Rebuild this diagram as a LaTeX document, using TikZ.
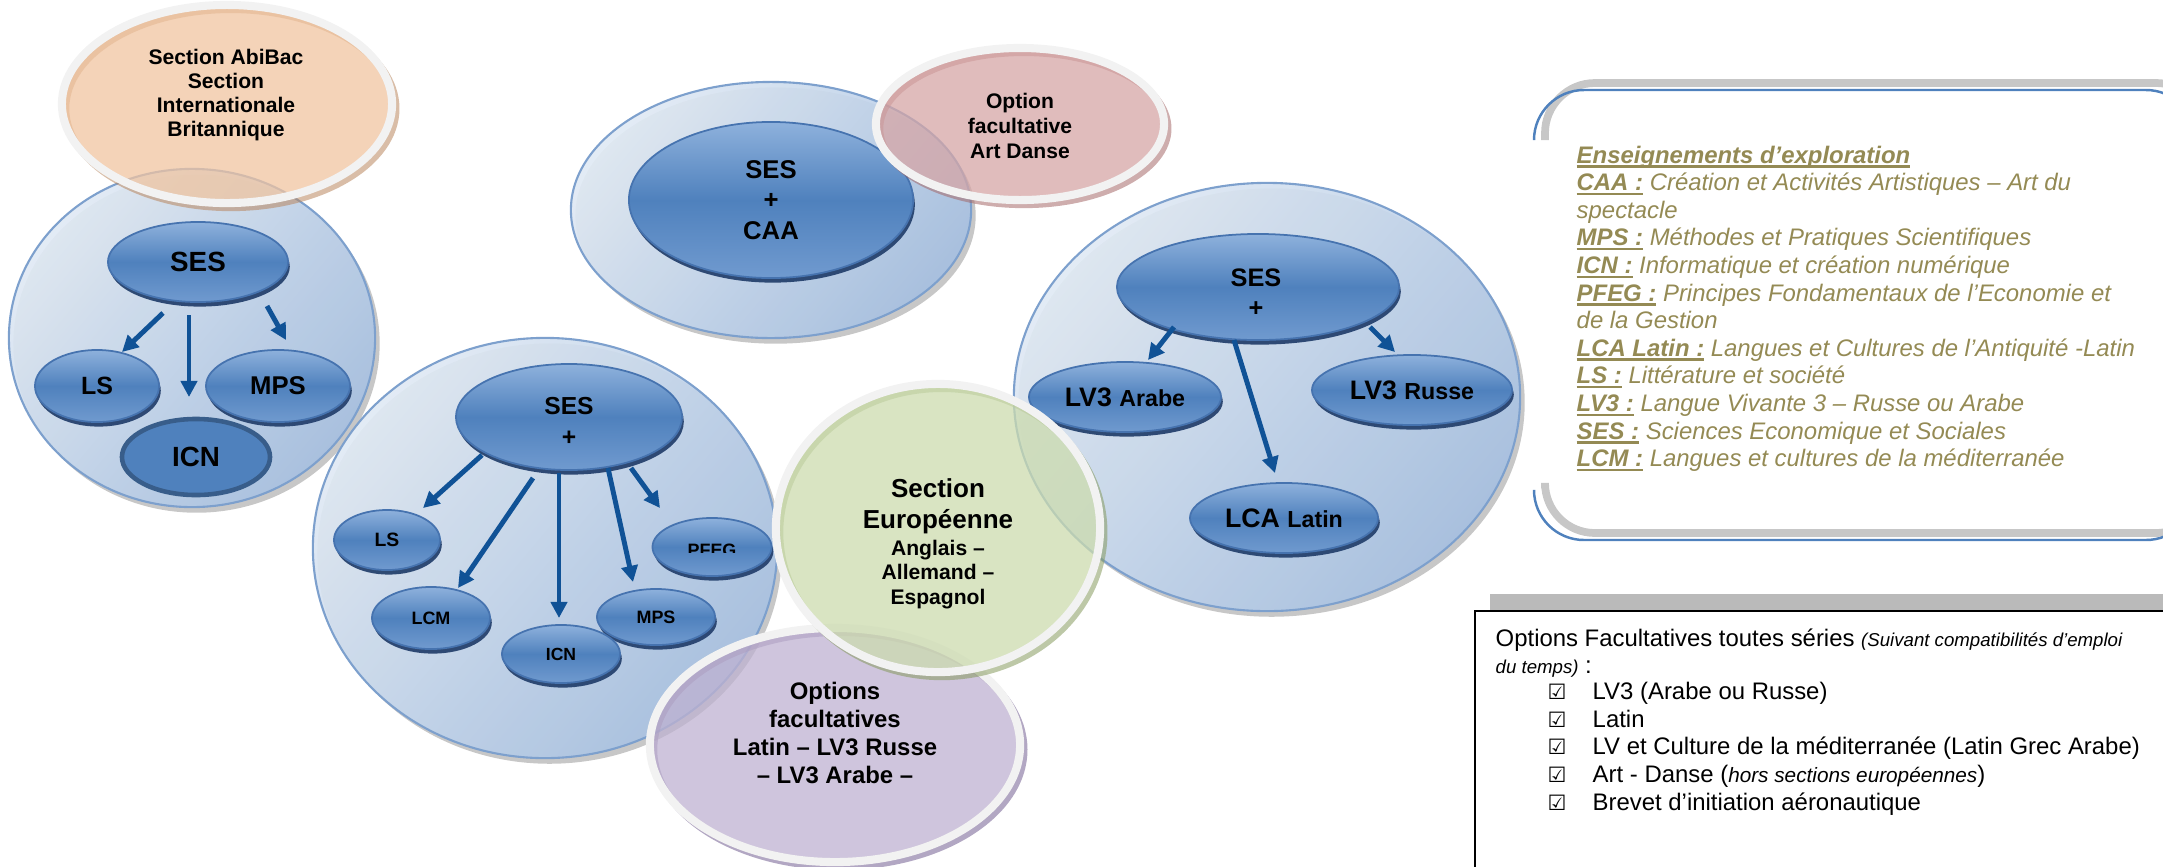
\documentclass[tikz,border=0pt]{standalone}
\usepackage{fontspec}
\setmainfont{Liberation Sans}
\newfontfamily\djv{DejaVu Sans}
\usetikzlibrary{shapes.geometric,arrows.meta,shadows}
\definecolor{bigL}{RGB}{224,233,244}
\definecolor{bigD}{RGB}{166,192,224}
\definecolor{bigE}{RGB}{125,160,205}
\definecolor{innT}{RGB}{142,177,220}
\definecolor{innM}{RGB}{79,129,189}
\definecolor{innB}{RGB}{112,154,207}
\definecolor{innE}{RGB}{70,115,175}
\definecolor{innS}{RGB}{38,66,110}
\definecolor{icnE}{RGB}{56,93,138}
\definecolor{arrc}{RGB}{16,82,150}
\definecolor{ring}{RGB}{242,242,242}
\definecolor{orF}{RGB}{240,196,160}
\definecolor{orS}{RGB}{185,135,95}
\definecolor{pkF}{RGB}{214,166,166}
\definecolor{pkS}{RGB}{165,105,105}
\definecolor{grF}{RGB}{204,219,174}
\definecolor{grS}{RGB}{135,155,95}
\definecolor{puF}{RGB}{191,178,209}
\definecolor{puS}{RGB}{115,95,145}
\definecolor{olive}{RGB}{148,138,84}
\definecolor{frameB}{RGB}{79,129,189}
\newcommand\fsz[2]{\fontsize{#1}{#2}\selectfont}
\newcommand\myul[1]{\setbox0=\hbox{#1}\dimen0=\wd0\leavevmode\rlap{\box0}\rule[-1.3pt]{\dimen0}{0.7pt}}
\begin{document}
\begin{tikzpicture}[x=0.01cm, y=-0.01cm,
  bigc/.style={ellipse, inner sep=0pt, draw=bigE, line width=0.6pt,
    top color=bigL, bottom color=bigD, shading angle=50, fill opacity=0.92,
    drop shadow={shadow xshift=1.3pt, shadow yshift=-1.6pt, opacity=0.22, fill=black}},
  inn/.style={ellipse, inner sep=0pt, draw=innE, line width=0.5pt,
    top color=innT, bottom color=innB, middle color=innM,
    drop shadow={shadow xshift=0.5pt, shadow yshift=-1.3pt, fill=innS, opacity=0.95},
    font=\bfseries, text=black},
  icnflat/.style={ellipse, inner sep=0pt, fill=innM, draw=icnE, line width=1.3pt, font=\bfseries},
  pastel/.style 2 args={ellipse, inner sep=0pt, draw=ring, line width=2.3pt,
    fill=#1, fill opacity=0.75,
    general shadow={shadow xshift=1.1pt, shadow yshift=-1.3pt, fill=none, draw=#2, line width=2pt, opacity=0.55}},
  ptext/.style={align=center, inner sep=0pt, font=\bfseries},
  btext/.style={anchor=base, inner sep=0pt},
  arrw/.style={draw=arrc, line width=1.4pt, -{Triangle[width=4.6pt,length=4.6pt]}},
  lbl/.style={anchor=base west, inner sep=0pt, font=\fsz{6.8}{8}}
]
\useasboundingbox (0,0) rectangle (2163,866);
\clip (0,0) rectangle (2163,866);

% big circles
\node[bigc, minimum width=3.66cm, minimum height=3.38cm] (c1) at (192,338) {};
\node[bigc, minimum width=4.00cm, minimum height=2.56cm] (c2) at (771,210) {};
\node[bigc, minimum width=4.64cm, minimum height=4.20cm] (cm) at (545,548) {};
\node[bigc, minimum width=5.06cm, minimum height=4.28cm] (c3) at (1267,397) {};

% circle 1
\node[inn, minimum width=1.80cm, minimum height=0.80cm, font=\bfseries\fsz{7.9}{9}] (ses1) at (198,262) {SES};
\node[inn, minimum width=1.24cm, minimum height=0.72cm, font=\bfseries\fsz{7.1}{8}] (ls1) at (97,386) {LS};
\node[inn, minimum width=1.44cm, minimum height=0.72cm, font=\bfseries\fsz{7.3}{8}] (mps1) at (278,386) {MPS};
\node[icnflat, minimum width=1.48cm, minimum height=0.76cm, font=\bfseries\fsz{7.9}{9}] (icn1) at (196,457) {ICN};
\draw[arrw] ([shift={(-35,51)}]ses1.center) -- ([shift={(25,-34)}]ls1.center);
\draw[arrw] ([shift={(-9,53)}]ses1.center) -- ([shift={(-7,-60)}]icn1.center);
\draw[arrw] ([shift={(69,44)}]ses1.center) -- ([shift={(8,-46)}]mps1.center);

% circle 2
\node[inn, minimum width=2.84cm, minimum height=1.56cm, align=center, font=\bfseries\fsz{7.3}{8.6}] (caa) at (771,200) {SES\\+\\CAA};

% middle circle
\node[inn, minimum width=2.26cm, minimum height=1.06cm] (sesm) at (569,417) {};
\node[btext, font=\bfseries\fsz{7}{8}] (sesm-t1) at (569,414) {SES};
\node[btext, font=\bfseries\fsz{7}{8}] (sesm-t2) at (569,445) {+};
\node[inn, minimum width=1.06cm, minimum height=0.60cm, font=\bfseries\fsz{5.5}{6}] (lsm) at (387,540) {LS};
\node[inn, minimum width=1.18cm, minimum height=0.62cm, font=\bfseries\fsz{5.1}{6}] (lcmm) at (431,618) {LCM};
\node[inn, minimum width=1.18cm, minimum height=0.56cm, font=\bfseries\fsz{5.1}{6}] (mpsm) at (656,617) {MPS};
\node[inn, minimum width=1.18cm, minimum height=0.58cm, font=\bfseries\fsz{5}{6}] (icnm) at (561,654) {ICN};
\node[inn, minimum width=1.19cm, minimum height=0.58cm] (pfeg) at (712,547) {};
\begin{scope}
\clip (640,500) rectangle (790,552);
\node[btext, font=\bfseries\fsz{5.1}{6}] (pfegt) at (712,556) {PFEG};
\end{scope}
\draw[arrw] ([shift={(-87,38)}]sesm.center) -- ([shift={(36,-32)}]lsm.center);
\draw[arrw] ([shift={(-36,61)}]sesm.center) -- ([shift={(27,-30)}]lcmm.center);
\draw[arrw] ([shift={(-10,56)}]sesm.center) -- ([shift={(-2,-36)}]icnm.center);
\draw[arrw] ([shift={(39,51)}]sesm.center) -- ([shift={(-23,-35)}]mpsm.center);
\draw[arrw] ([shift={(62,51)}]sesm.center) -- ([shift={(-52,-39)}]pfeg.center);

% circle 3
\node[inn, minimum width=2.82cm, minimum height=1.06cm] (ses3) at (1258,287) {};
\node[btext, font=\bfseries\fsz{7.2}{8}] (ses3-t1) at (1256,286) {SES};
\node[btext, font=\bfseries\fsz{7.2}{8}] (ses3-t2) at (1256,316) {+};
\node[inn, minimum width=1.92cm, minimum height=0.70cm, font=\bfseries\fsz{7.6}{8}] (ar3) at (1125,397) {LV3 {\fsz{6.6}{8}Arabe}};
\node[inn, minimum width=2.00cm, minimum height=0.70cm, font=\bfseries\fsz{7.6}{8}] (ru3) at (1412,390) {LV3 {\fsz{6.6}{8}Russe}};
\node[inn, minimum width=1.88cm, minimum height=0.70cm, font=\bfseries\fsz{7.6}{8}] (lca3) at (1284,518) {LCA {\fsz{6.6}{8}Latin}};
\draw[arrw] ([shift={(-84,40)}]ses3.center) -- ([shift={(23,-37)}]ar3.center);
\draw[arrw] ([shift={(-24,53)}]ses3.center) -- ([shift={(-9,-45)}]lca3.center);
\draw[arrw] ([shift={(112,40)}]ses3.center) -- ([shift={(-17,-38)}]ru3.center);

% pastel ellipses
\node[pastel={orF}{orS}, minimum width=3.30cm, minimum height=1.98cm] (orange) at (227,104) {};
\node[ptext, font=\bfseries\fsz{6}{6.8}] (orange-t) at (226,95) {Section AbiBac\\Section\\Internationale\\Britannique};
\node[pastel={pkF}{pkS}, minimum width=2.88cm, minimum height=1.52cm] (pink) at (1020,124) {};
\node[ptext, font=\bfseries\fsz{6}{7.1}] (pink-t) at (1020,126) {Option\\facultative\\Art Danse};
\node[pastel={puF}{puS}, minimum width=3.70cm, minimum height=2.34cm] (purple) at (835,745) {};
\node[ptext, font=\bfseries\fsz{6.8}{7.9}] (purple-t) at (835,733) {Options\\facultatives\\Latin – LV3 Russe\\– LV3 Arabe –};
\node[pastel={grF}{grS}, minimum width=3.24cm, minimum height=2.88cm] (green) at (938,528) {};
\node[btext, font=\bfseries\fsz{7.4}{8}] (gr1) at (938,497) {Section};
\node[btext, font=\bfseries\fsz{7.4}{8}] (gr2) at (938,528) {Européenne};
\node[btext, font=\bfseries\fsz{6}{7}] (gr3) at (938,555) {Anglais –};
\node[btext, font=\bfseries\fsz{6}{7}] (gr4) at (938,579) {Allemand –};
\node[btext, font=\bfseries\fsz{6}{7}] (gr5) at (938,604) {Espagnol};

% box 1 : enseignements d'exploration
\draw[black!22, line width=2.2pt, rounded corners=0.5cm] (1545,140) -- (1545,83) -- (2206,83) -- (2206,200);
\draw[black!22, line width=2.2pt, rounded corners=0.5cm] (1545,488) -- (1545,533) -- (2206,533) -- (2206,420);
\draw[frameB, line width=0.7pt, rounded corners=0.5cm] (1534,138) -- (1534,90) -- (2196,90) -- (2196,200);
\draw[frameB, line width=0.7pt, rounded corners=0.5cm] (1534,492) -- (1534,540) -- (2196,540) -- (2196,420);
\node[anchor=north west, inner sep=0pt, align=left, text=olive, font=\fsz{6.8}{7.85}\itshape] (expl) at (1576,145) {%
\myul{\bfseries Enseignements d’exploration}\\
\myul{\bfseries CAA :} Création et Activités Artistiques – Art du\\
spectacle\\
\myul{\bfseries MPS :} Méthodes et Pratiques Scientifiques\\
\myul{\bfseries ICN :} Informatique et création numérique\\
\myul{\bfseries PFEG :} Principes Fondamentaux de l’Economie et\\
de la Gestion\\
\myul{\bfseries LCA Latin :} Langues et Cultures de l’Antiquité -Latin\\
\myul{\bfseries LS :} Littérature et société\\
\myul{\bfseries LV3 :} Langue Vivante 3 – Russe ou Arabe\\
\myul{\bfseries SES :} Sciences Economique et Sociales\\
\myul{\bfseries LCM :} Langues et cultures de la méditerranée};

% box 2 : options facultatives
\fill[black!27] (1490,594) rectangle (2175,610);
\draw[black, line width=0.6pt] (1475,880) -- (1475,611) -- (2175,611);
\node[lbl] (o1) at (1495,646) {Options Facultatives toutes séries {\fsz{5.3}{6}\itshape (Suivant compatibilités d’emploi}};
\node[lbl] (o2) at (1495,673) {{\fsz{5.3}{6}\itshape du temps)} :};
\node[lbl, font=\djv\fsz{6}{7}] (k1) at (1547,699) {☑};
\node[lbl, font=\djv\fsz{6}{7}] (k2) at (1547,727) {☑};
\node[lbl, font=\djv\fsz{6}{7}] (k3) at (1547,754) {☑};
\node[lbl, font=\djv\fsz{6}{7}] (k4) at (1547,782) {☑};
\node[lbl, font=\djv\fsz{6}{7}] (k5) at (1547,810) {☑};
\node[lbl] (i1) at (1592,699) {LV3 (Arabe ou Russe)};
\node[lbl] (i2) at (1592,727) {Latin};
\node[lbl] (i3) at (1592,754) {LV et Culture de la méditerranée (Latin Grec Arabe)};
\node[lbl] (i4) at (1592,782) {Art - Danse ({\fsz{5.9}{7}\itshape hors sections européennes})};
\node[lbl] (i5) at (1592,810) {Brevet d’initiation aéronautique};
\end{tikzpicture}
\end{document}
